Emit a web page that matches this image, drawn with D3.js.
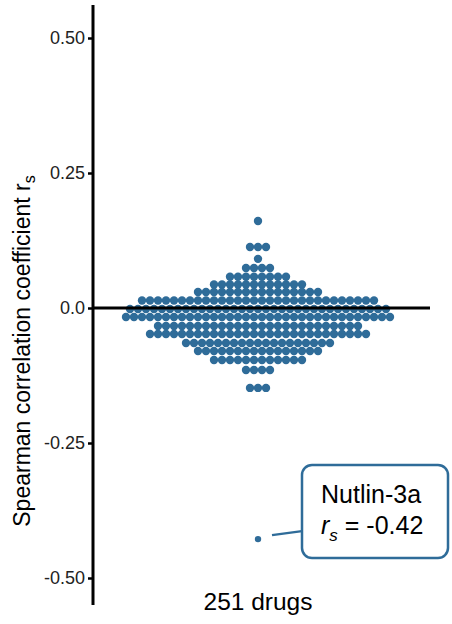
<!DOCTYPE html>
<html>
<head>
<meta charset="utf-8">
<script src="https://cdn.jsdelivr.net/npm/d3@7"></script>
<style>
  body { margin: 0; background: #fff; }
  svg { display: block; font-family: "Liberation Sans", Arial, sans-serif; }
</style>
</head>
<body>
<script>
// dotplot bins: bin centre (rs) and number of drugs in it
const binValues = [0.161, 0.113, 0.091, 0.074, 0.058, 0.0435, 0.0296, 0.0139, -0.0019,
  -0.0167, -0.0333, -0.0481, -0.0648, -0.0796, -0.0963, -0.1148, -0.148];
const binCounts = [1, 3, 1, 4, 8, 12, 16, 30, 33, 34, 26, 28, 19, 16, 12, 4, 3];

const highlightName = "Nutlin-3a";
const highlightValue = -0.428;
const highlightLabel = "-0.42";

const tickValues = [0.5, 0.25, 0, -0.25, -0.5];
const tickLabels = ["0.50", "0.25", "0.0", "-0.25", "-0.50"];
const xLabel = "251 drugs";

const width = 452, height = 624;
const color = "#2f6c99";

const svg = d3.select("body").append("svg")
  .attr("width", width).attr("height", height)
  .attr("viewBox", [0, 0, width, height]);

const yScale = d3.scaleLinear().domain([0.5, -0.5]).range([38, 578]);
// x in "dot widths" from the centre of the swarm
const xScale = d3.scaleLinear().domain([-20.625, 21.5]).range([93, 430]);

// dots
const dots = [];
binValues.forEach((v, b) => {
  const n = binCounts[b];
  for (let i = 0; i < n; i++) dots.push({ v, k: i - (n - 1) / 2 });
});

svg.append("g").selectAll("circle")
  .data(dots)
  .join("circle")
  .attr("cx", d => xScale(d.k))
  .attr("cy", d => yScale(d.v))
  .attr("r", 4.2)
  .attr("fill", color);

// zero line over the dots
svg.append("line")
  .attr("x1", xScale.range()[0]).attr("x2", xScale.range()[1])
  .attr("y1", yScale(0)).attr("y2", yScale(0))
  .attr("stroke", "#000").attr("stroke-width", 3);

// y axis
const yAxis = d3.axisLeft(yScale)
  .tickValues(tickValues)
  .tickFormat((d, i) => tickLabels[i])
  .tickSize(5)
  .tickPadding(3)
  .tickSizeOuter(0);

const gy = svg.append("g")
  .attr("transform", `translate(${xScale.range()[0]},0)`)
  .call(yAxis);
gy.select(".domain").remove();
gy.selectAll(".tick line").attr("stroke", "#000").attr("stroke-width", 2.5);
gy.selectAll(".tick text").attr("font-size", 18).attr("fill", "#222")
  .attr("font-family", "Liberation Sans, Arial, sans-serif");
gy.append("line")
  .attr("x1", 0).attr("x2", 0)
  .attr("y1", 5).attr("y2", 605)
  .attr("stroke", "#000").attr("stroke-width", 3);

// y title
const yt = svg.append("text")
  .attr("transform", `translate(30,351) rotate(-90)`)
  .attr("text-anchor", "middle")
  .attr("font-size", 23)
  .attr("fill", "#000");
yt.append("tspan").text("Spearman correlation coefficient r");
yt.append("tspan").attr("font-size", 16).attr("dy", 5).text("s");

// x label
svg.append("text")
  .attr("x", xScale(0)).attr("y", 610)
  .attr("text-anchor", "middle")
  .attr("font-size", 24.5)
  .attr("fill", "#000")
  .text(xLabel);

// highlighted drug
const hx = xScale(0), hy = yScale(highlightValue);
svg.append("line")
  .attr("x1", hx + 14).attr("y1", hy - 4)
  .attr("x2", 302).attr("y2", hy - 8)
  .attr("stroke", color).attr("stroke-width", 2.5);
svg.append("circle")
  .attr("cx", hx).attr("cy", hy).attr("r", 3.2).attr("fill", color);

svg.append("rect")
  .attr("x", 302).attr("y", 465)
  .attr("width", 146).attr("height", 93)
  .attr("rx", 10)
  .attr("fill", "#fff")
  .attr("stroke", color).attr("stroke-width", 2.5);

svg.append("text")
  .attr("x", 321).attr("y", 503)
  .attr("font-size", 25).attr("fill", "#000")
  .text(highlightName);

const lab = svg.append("text")
  .attr("x", 321).attr("y", 534)
  .attr("font-size", 25).attr("fill", "#000");
lab.append("tspan").attr("font-style", "italic").text("r");
lab.append("tspan").attr("font-style", "italic").attr("font-size", 17).attr("dy", 7).text("s");
lab.append("tspan").attr("dy", -7).text(" = " + highlightLabel);
</script>
</body>
</html>
